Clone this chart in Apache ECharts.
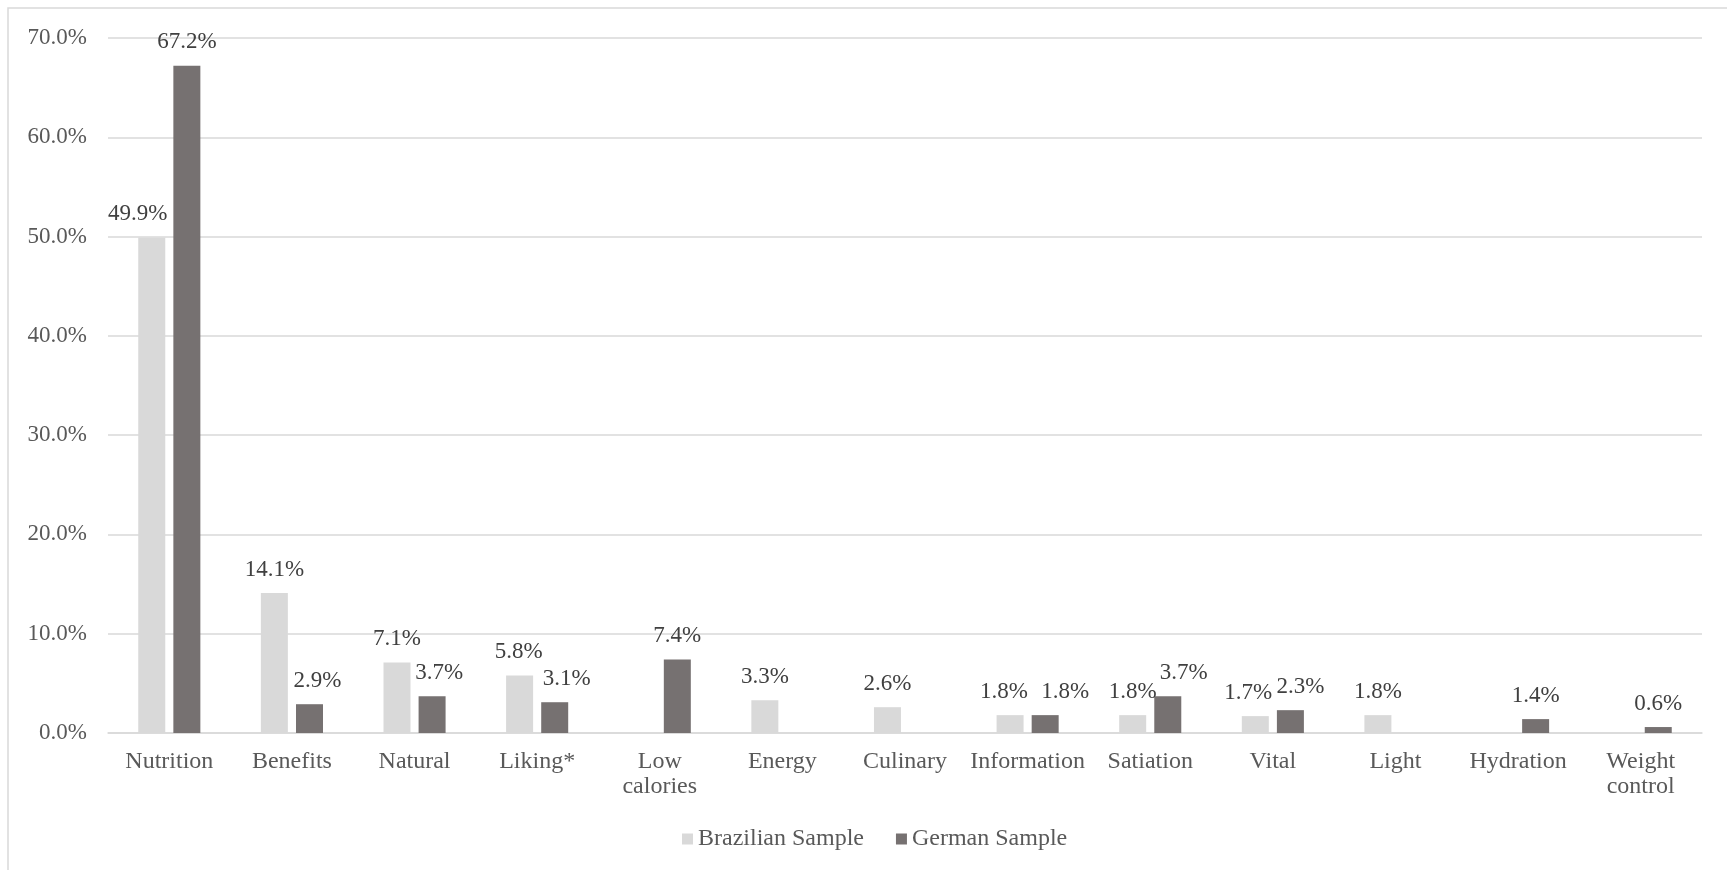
<!DOCTYPE html>
<html>
<head>
<meta charset="utf-8">
<title>Brazilian vs German Sample</title>
<script src="https://cdn.jsdelivr.net/npm/echarts@6/dist/echarts.min.js"></script>
<style>
  html, body { margin: 0; padding: 0; background: #ffffff; }
  #chart { width: 1727px; height: 870px; }
</style>
</head>
<body>
<div id="chart"></div>
<script>
// Category labels along the x axis
const categories = [
  'Nutrition', 'Benefits', 'Natural', 'Liking*', 'Low\ncalories', 'Energy',
  'Culinary', 'Information', 'Satiation', 'Vital', 'Light', 'Hydration', 'Weight\ncontrol'
];

// Share of mentions (%) per sample; null = no mentions in that sample
const brazilianSample = [49.9, 14.1, 7.1, 5.8, null, 3.3, 2.6, 1.8, 1.8, 1.7, 1.8, null, null];
const germanSample    = [67.2, 2.9, 3.7, 3.1, 7.4, null, null, 1.8, 3.7, 2.3, null, 1.4, 0.6];

const seriesNames = ['Brazilian Sample', 'German Sample'];

// Y axis range and step (percent)
const yMin = 0, yMax = 70, yStep = 10;

// Hand-placed horizontal label shifts (px) so neighbouring labels stay apart
const labelNudge = {
  'Brazilian Sample': { 0: -14, 3: -1, 7: -6, 9: -7 },
  'German Sample':    { 1: 8, 2: 7, 3: 12, 7: 20, 8: 16, 9: 10 }
};

const FONT = '"Liberation Serif", "Times New Roman", serif';
const TEXT = '#595959';
const GRID_COLOR = '#d9d9d9';

function buildData(values, name) {
  const nudges = labelNudge[name] || {};
  return values.map((v, i) => {
    if (nudges[i] === undefined) return v;
    return { value: v, label: { offset: [nudges[i], 0] } };
  });
}

const labelStyle = {
  show: true,
  position: 'top',
  distance: 12,
  fontFamily: FONT,
  fontSize: 23,
  color: '#404040',
  formatter: p => (p.value == null ? '' : p.value.toFixed(1) + '%')
};

const chart = echarts.init(document.getElementById('chart'), null, { renderer: 'canvas' });

chart.setOption({
  backgroundColor: '#ffffff',
  animation: false,
  textStyle: { fontFamily: FONT },
  graphic: [{
    type: 'rect',
    shape: { x: 8, y: 8, width: 1800, height: 900 },
    style: { fill: 'none', stroke: GRID_COLOR, lineWidth: 1.5 },
    silent: true
  }],
  grid: { left: 108, right: 25, top: 38, bottom: 137, containLabel: false },
  legend: {
    data: seriesNames,
    left: 682,
    top: 827,
    padding: 0,
    icon: 'rect',
    itemWidth: 11,
    itemHeight: 11,
    itemGap: 32,
    textStyle: { fontFamily: FONT, fontSize: 24, color: TEXT }
  },
  xAxis: {
    type: 'category',
    data: categories,
    axisLine: { lineStyle: { color: GRID_COLOR, width: 1.5 } },
    axisTick: { show: false },
    axisLabel: {
      fontFamily: FONT, fontSize: 24, color: TEXT, margin: 16,
      lineHeight: 25, interval: 0
    }
  },
  yAxis: {
    type: 'value',
    min: yMin,
    max: yMax,
    interval: yStep,
    axisLine: { show: false },
    axisTick: { show: false },
    splitLine: { lineStyle: { color: GRID_COLOR, width: 1.5 } },
    axisLabel: {
      fontFamily: FONT, fontSize: 23, color: TEXT, margin: 21,
      formatter: v => v.toFixed(1) + '%'
    }
  },
  series: [
    {
      name: seriesNames[0],
      type: 'bar',
      data: buildData(brazilianSample, seriesNames[0]),
      barWidth: 27,
      barGap: '30%',
      itemStyle: { color: '#d9d9d9' },
      label: labelStyle
    },
    {
      name: seriesNames[1],
      type: 'bar',
      data: buildData(germanSample, seriesNames[1]),
      barWidth: 27,
      barGap: '30%',
      itemStyle: { color: '#767171' },
      label: labelStyle
    }
  ]
});
</script>
</body>
</html>
